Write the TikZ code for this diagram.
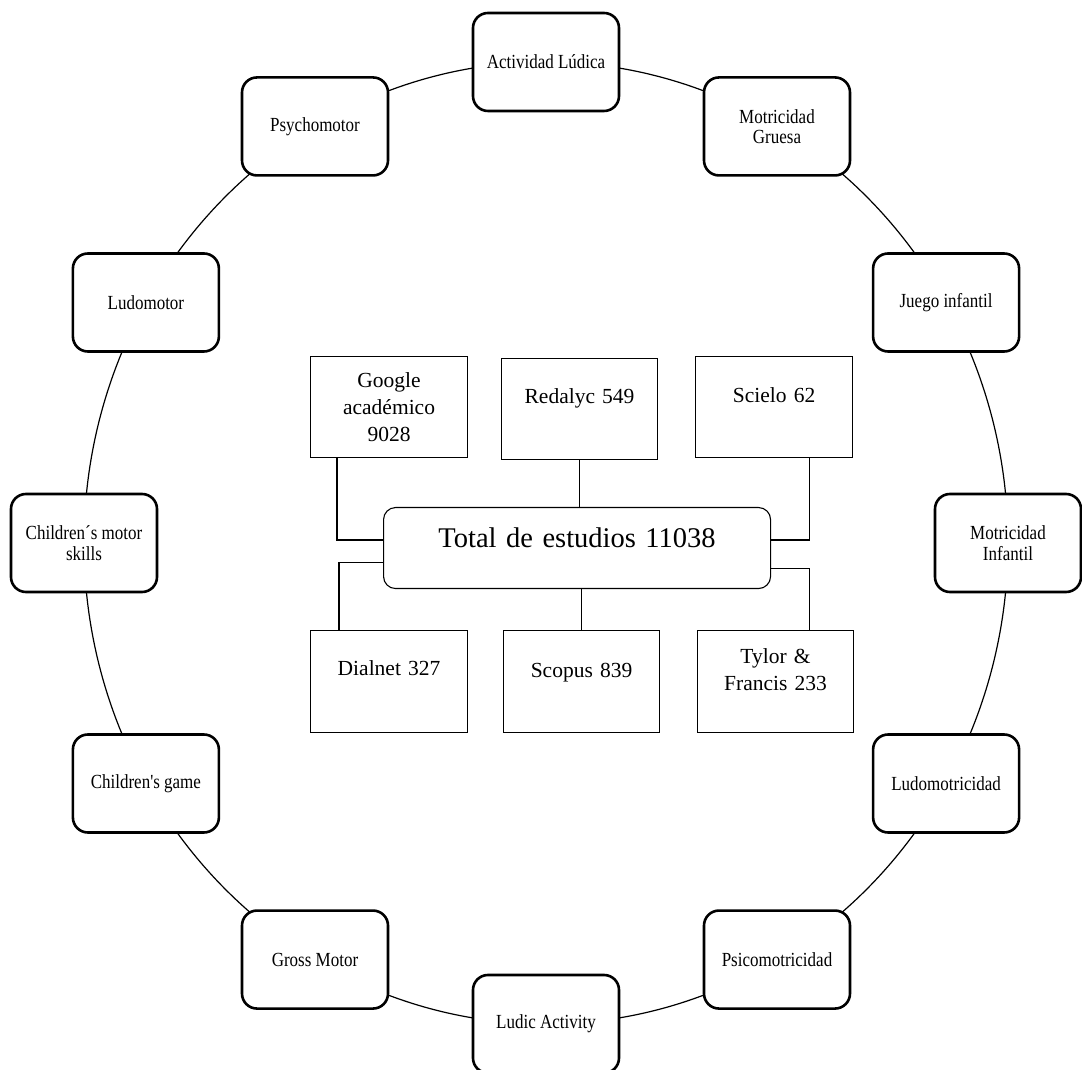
\documentclass[tikz,border=0pt]{standalone}
\usepackage{fontspec}
\setmainfont{Liberation Serif}
\newfontfamily\outerfont[FakeStretch=0.85]{Liberation Serif}
\usetikzlibrary{backgrounds}
\begin{document}
\begin{tikzpicture}[x=1pt,y=1pt,
  ringbox/.style={draw, line width=2.6pt, rounded corners=15pt, fill=white,
    minimum width=146pt, minimum height=98pt, inner sep=2pt, align=center,
    font=\outerfont\fontsize{20pt}{20.5pt}\selectfont},
  srcbox/.style={draw, line width=1.1pt, fill=white, inner sep=0pt, anchor=north west,
    align=center, font=\fontsize{21.5pt}{27pt}\selectfont},
  totalbox/.style={draw, line width=1.1pt, rounded corners=12pt, fill=white, inner sep=0pt,
    anchor=north west, align=center, text width=387pt, text height=40pt, text depth=41pt,
    font=\fontsize{28.5pt}{32pt}\selectfont},
  link/.style={line width=1.1pt},
  ringline/.style={line width=1.2pt}
]
\useasboundingbox (0,0) rectangle (1082,1069);
\coordinate (C) at (546,526);

% ring nodes
\node[ringbox] (n0)  at ([shift={(90:462pt and 481pt)}]C)   {Actividad Lúdica};
\node[ringbox] (n1)  at ([shift={(60:462pt and 481pt)}]C)   {Motricidad\\Gruesa};
\node[ringbox] (n2)  at ([shift={(30:462pt and 481pt)}]C)   {Juego infantil};
\node[ringbox] (n3)  at ([shift={(0:462pt and 481pt)}]C)    {Motricidad\\Infantil};
\node[ringbox] (n4)  at ([shift={(-30:462pt and 481pt)}]C)  {Ludomotricidad};
\node[ringbox] (n5)  at ([shift={(-60:462pt and 481pt)}]C)  {Psicomotricidad};
\node[ringbox] (n6)  at ([shift={(-90:462pt and 481pt)}]C)  {Ludic Activity};
\node[ringbox] (n7)  at ([shift={(-120:462pt and 481pt)}]C) {Gross Motor};
\node[ringbox] (n8)  at ([shift={(-150:462pt and 481pt)}]C) {Children's game};
\node[ringbox] (n9)  at ([shift={(180:462pt and 481pt)}]C)  {Children´s motor\\skills};
\node[ringbox] (n10) at ([shift={(150:462pt and 481pt)}]C)  {Ludomotor};
\node[ringbox] (n11) at ([shift={(120:462pt and 481pt)}]C)  {Psychomotor};

\begin{pgfonlayer}{background}
  \foreach \i in {0,...,11} {
    \draw[ringline] (n\i.center) arc[start angle={90-30*\i}, end angle={60-30*\i},
      x radius=462pt, y radius=481pt];
  }
\end{pgfonlayer}

% centre
\node[totalbox] (total) at (383,562) {Total de estudios 11038};

\node[srcbox, text width=157pt, text height=31pt, text depth=70pt] (google)  at (310,713) {Google\\académico\\9028};
\node[srcbox, text width=156pt, text height=45pt, text depth=56pt] (redalyc) at (501,711) {Redalyc 549};
\node[srcbox, text width=157pt, text height=46pt, text depth=55pt] (scielo)  at (695,713) {Scielo 62};
\node[srcbox, text width=157pt, text height=45pt, text depth=57pt] (dialnet) at (310,439) {Dialnet 327};
\node[srcbox, text width=156pt, text height=47pt, text depth=55pt] (scopus)  at (503,439) {Scopus 839};
\node[srcbox, text width=156pt, text height=33pt, text depth=69pt] (tylor)   at (697,439) {Tylor \&\\Francis 233};

\draw[link] ([xshift=27pt]google.south west) |- ([yshift=8pt]total.west);
\draw[link] ([yshift=-14.5pt]total.west) -| ([xshift=29pt]dialnet.north west);
\draw[link] (redalyc.south) -- (redalyc.south |- total.north);
\draw[link] (total.south -| scopus.north) -- (scopus.north);
\draw[link] ([xshift=-44pt]scielo.south east) |- ([yshift=8pt]total.east);
\draw[link] ([yshift=-20.5pt]total.east) -| ([xshift=-45pt]tylor.north east);
\end{tikzpicture}
\end{document}
